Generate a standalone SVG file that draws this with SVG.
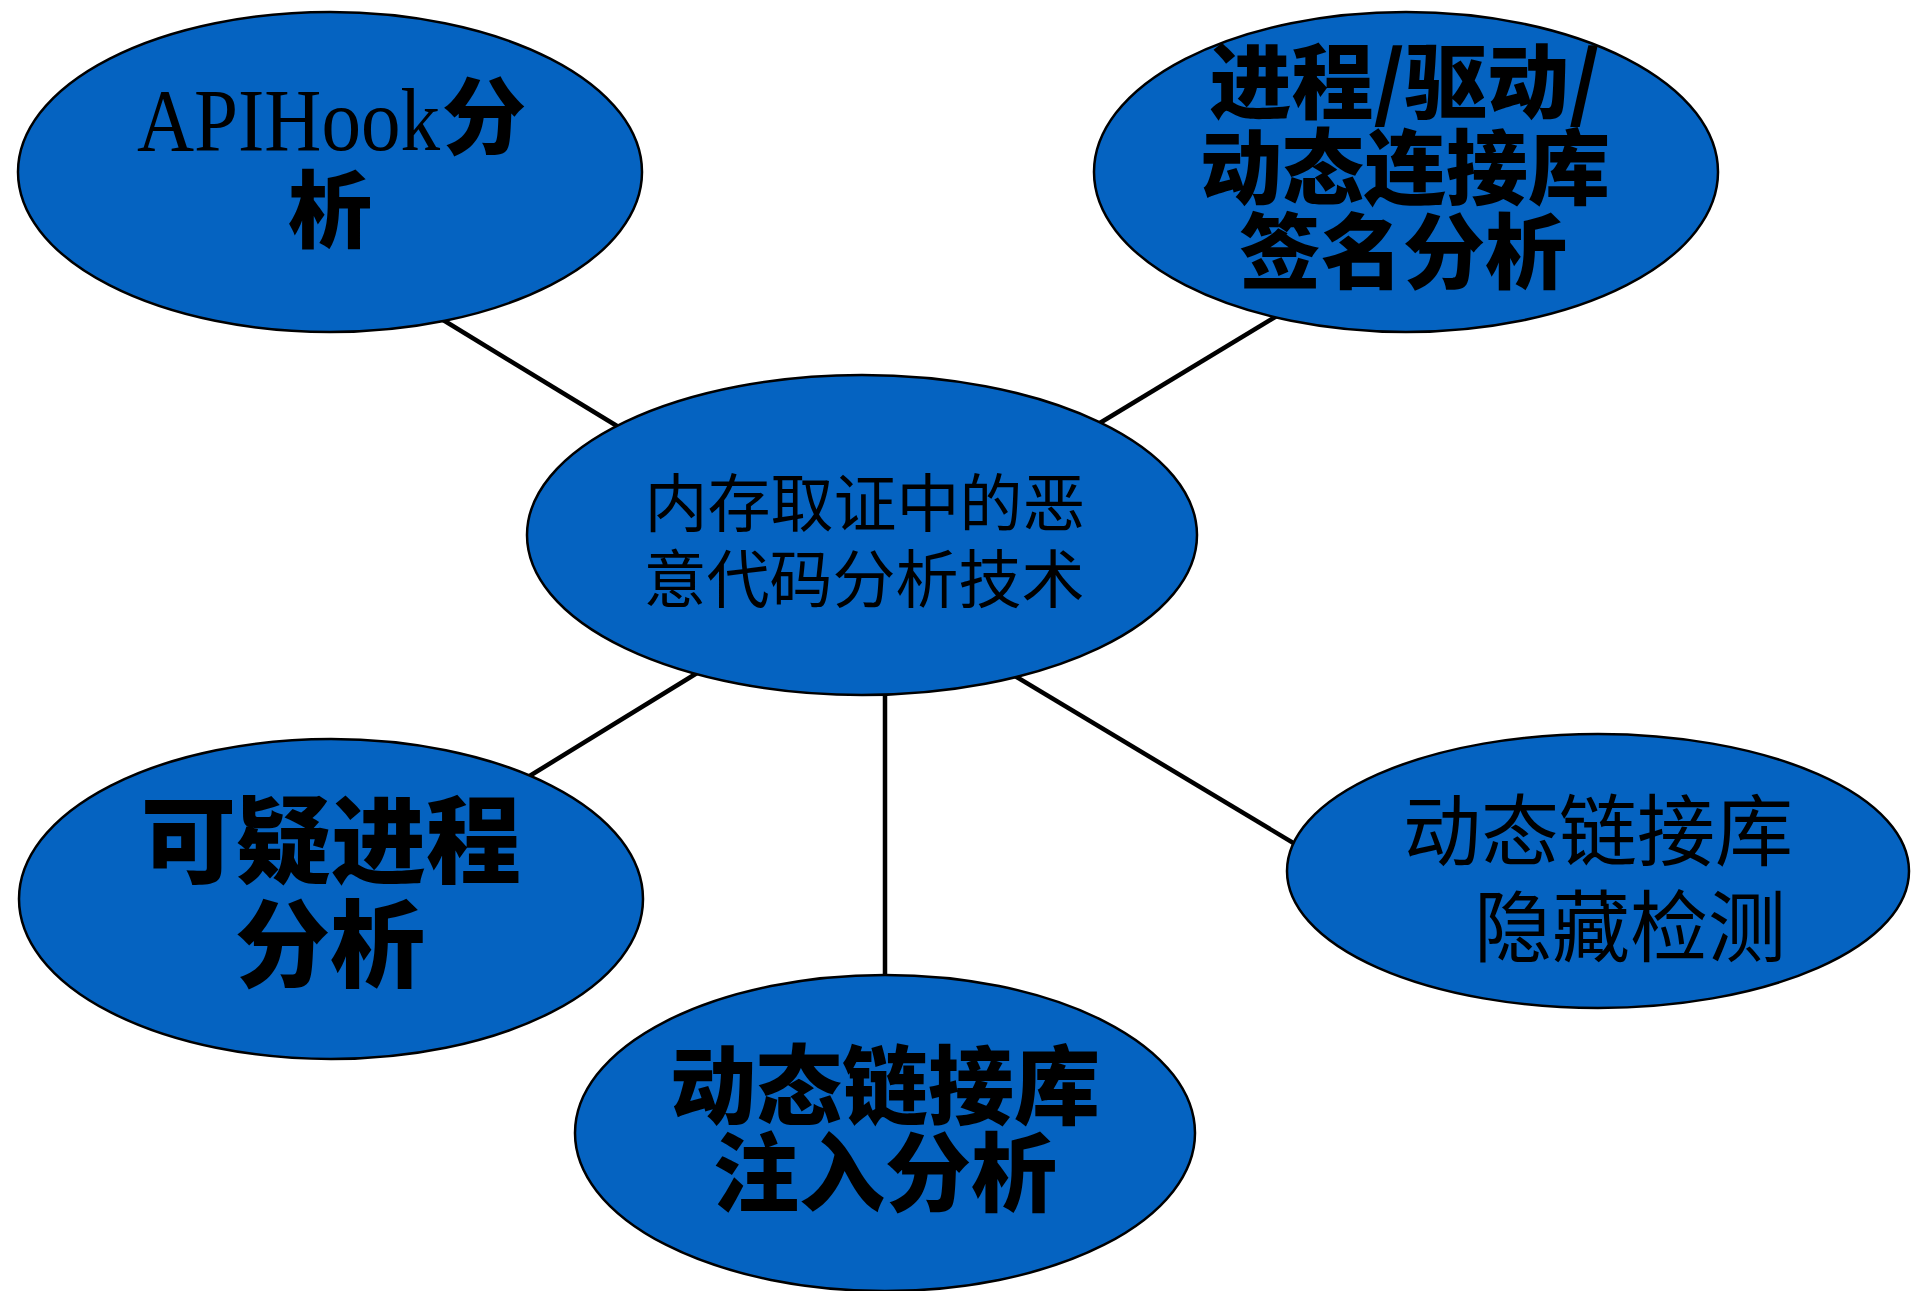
<svg xmlns="http://www.w3.org/2000/svg" width="1911" height="1291" viewBox="0 0 1911 1291">
<style>
.node ellipse{fill:#0563C1;stroke:#000;stroke-width:2.5}
.conn line{stroke:#000;stroke-width:4.5}
.b{font-family:"Noto Sans CJK SC","Noto Sans",sans-serif;font-weight:900;fill:#000}
.n{font-family:"Noto Sans CJK SC","Noto Sans",sans-serif;font-weight:400;fill:#000}
.lat{font-family:"Liberation Serif",serif;font-weight:400}
</style>
<rect width="1911" height="1291" fill="#fff"/>
<g id="connectors" class="conn">
<line x1="430" y1="312" x2="640" y2="440"/>
<line x1="1290" y1="308" x2="1080" y2="435"/>
<line x1="715" y1="662" x2="510" y2="788"/>
<line x1="885" y1="690" x2="885" y2="985"/>
<line x1="1000" y1="667" x2="1310" y2="853"/>
</g>
<g id="n-apihook" class="node">
<ellipse cx="330" cy="172" rx="312" ry="160"/>
<text class="b" font-size="84"><tspan class="lat" x="137" y="150" font-size="88" textLength="303" lengthAdjust="spacingAndGlyphs">APIHook</tspan><tspan x="442" y="148">分</tspan><tspan x="288" y="241">析</tspan></text>
</g>
<g id="n-sign" class="node">
<ellipse cx="1406" cy="172" rx="312" ry="160"/>
<text class="b" font-size="82" text-anchor="middle"><tspan x="1405" y="112">进程/驱动/</tspan><tspan x="1405" y="198">动态连接库</tspan><tspan x="1403" y="282">签名分析</tspan></text>
</g>
<g id="n-center" class="node">
<ellipse cx="862" cy="535" rx="335" ry="160"/>
<text class="n" font-size="63" text-anchor="middle"><tspan x="865" y="526">内存取证中的恶</tspan><tspan x="864" y="602">意代码分析技术</tspan></text>
</g>
<g id="n-process" class="node">
<ellipse cx="331" cy="899" rx="312" ry="160"/>
<text class="b" font-size="95" text-anchor="middle"><tspan x="331" y="876">可疑进程</tspan><tspan x="330" y="980">分析</tspan></text>
</g>
<g id="n-inject" class="node">
<ellipse cx="885" cy="1133" rx="310" ry="158"/>
<text class="b" font-size="86" text-anchor="middle"><tspan x="885" y="1118">动态链接库</tspan><tspan x="885" y="1205">注入分析</tspan></text>
</g>
<g id="n-hidden" class="node">
<ellipse cx="1598" cy="871" rx="311" ry="137"/>
<text class="n" font-size="78"><tspan x="1403" y="860">动态链接库</tspan><tspan x="1474" y="956">隐藏检测</tspan></text>
</g>
</svg>
